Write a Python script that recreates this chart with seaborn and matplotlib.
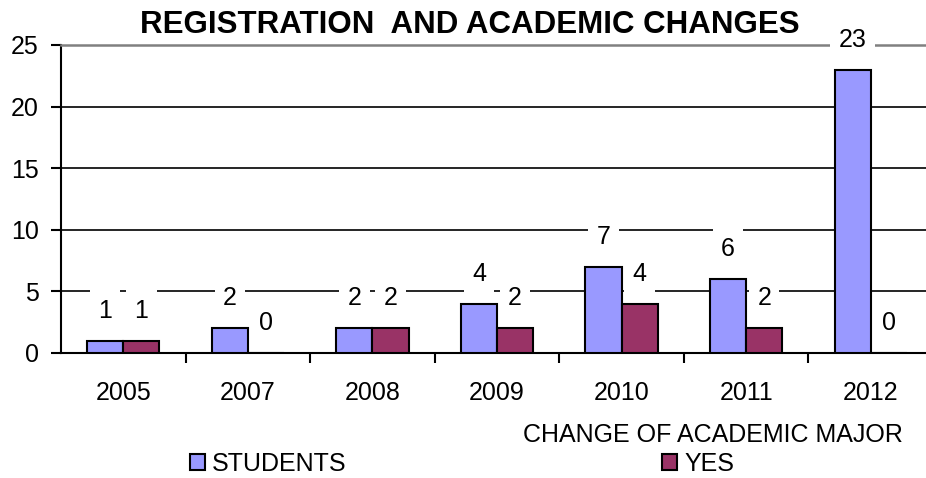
import pandas as pd
import matplotlib
matplotlib.use('Agg')
import matplotlib.pyplot as plt
import seaborn as sns

# 数据
years = ['2005', '2007', '2008', '2009', '2010', '2011', '2012']
students = [1, 2, 2, 4, 7, 6, 23]
yes = [1, 0, 2, 2, 4, 2, 0]
series_names = ['STUDENTS', 'YES']
colors = ['#9999FF', '#993366']

df = pd.DataFrame({
    'year': years * 2,
    'count': students + yes,
    'series': [series_names[0]] * len(years) + [series_names[1]] * len(years),
})

sns.set_style('white')
plt.rcParams['font.family'] = ['Liberation Sans', 'DejaVu Sans']
plt.rcParams['text.color'] = 'black'
plt.rcParams['xtick.color'] = 'black'
plt.rcParams['ytick.color'] = 'black'

W, H = 926, 478
fig = plt.figure(figsize=(W / 100, H / 100), dpi=100)
ax = fig.add_axes([61 / W, 1 - 353 / H, (933 - 61) / W, (353 - 45) / H])

sns.barplot(
    data=df, x='year', y='count', hue='series',
    palette=colors, saturation=1, width=0.58, gap=0,
    edgecolor='black', linewidth=1.5, ax=ax, legend=True, zorder=3
)

ax.set_xlim(-0.5, 6.5)
ax.set_ylim(0, 25)
ax.set_yticks(range(0, 26, 5))
ax.yaxis.grid(True, color='black', linewidth=1.2)
ax.set_axisbelow(True)

ax.spines['right'].set_visible(False)
ax.spines['top'].set_color('#808080')
ax.spines['top'].set_linewidth(1.8)
ax.spines['left'].set_linewidth(1.5)
ax.spines['bottom'].set_linewidth(1.5)
for s in ['left', 'bottom']:
    ax.spines[s].set_color('black')

# 刻度：分类中心放标签，分类边界放刻度线
ax.set_xticks(range(len(years)))
ax.set_xticklabels(years)
ax.set_xticks([i + 0.5 for i in range(len(years))], minor=True)
ax.tick_params(axis='x', which='major', length=0, pad=20, labelsize=18, labelcolor='black')
ax.tick_params(axis='x', which='minor', length=7, width=1.5, color='black', direction='out', bottom=True)
ax.tick_params(axis='y', length=7, width=1.5, color='black', direction='out', left=True, pad=9,
               labelsize=18, labelcolor='black')
ax.set_xlabel('')
ax.set_ylabel('')

# 数值标签
for container in ax.containers:
    ax.bar_label(container, padding=13, fontsize=18, color='black',
                 bbox=dict(facecolor='white', edgecolor='none', pad=6), zorder=4)

# 图例
handles, labels = ax.get_legend_handles_labels()
ax.get_legend().remove()
fig.legend(handles, labels, loc='center', bbox_to_anchor=(462 / W, 1 - 464 / H),
           ncol=2, frameon=False, fontsize=18, columnspacing=12.6,
           handlelength=0.6, handleheight=0.6, handletextpad=0.3, labelcolor='black')

fig.text(470 / W, 1 - 25 / H, 'REGISTRATION  AND ACADEMIC CHANGES',
         ha='center', va='center', fontsize=22.5, fontweight='bold', color='black')
fig.text(903 / W, 1 - 435 / H, 'CHANGE OF ACADEMIC MAJOR',
         ha='right', va='center', fontsize=18, color='black')

fig.savefig('out.png', dpi=100)
